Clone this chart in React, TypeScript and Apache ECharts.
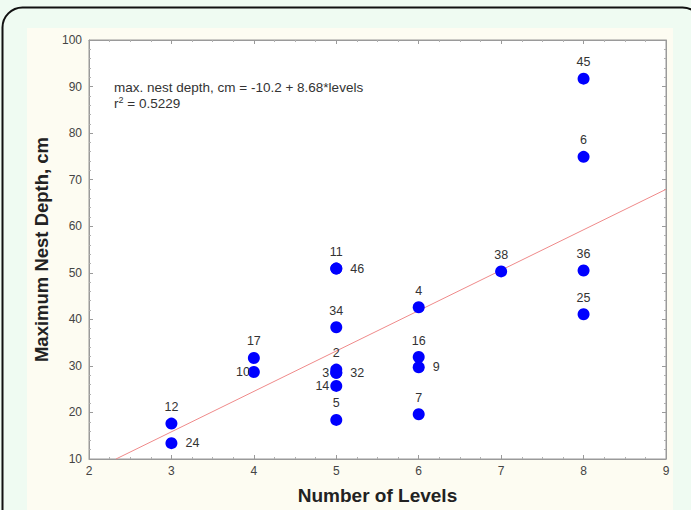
import React, { useEffect, useRef } from "react";
import * as echarts from "echarts";

const pointIds = ["45", "6", "36", "25", "38", "4", "16", "9", "7", "11", "46", "34", "2", "3", "32", "14", "5", "17", "10", "12", "24"];
const levels = [8, 8, 8, 8, 7, 6, 6, 6, 6, 5, 5, 5, 5, 5, 5, 5, 5, 4, 4, 3, 3];
const depths = [91.7, 74.9, 50.5, 41.1, 50.3, 42.6, 31.9, 29.7, 19.6, 50.9, 50.9, 38.3, 29.2, 28.5, 28.5, 25.7, 18.4, 31.7, 28.7, 17.6, 13.4];

const fitIntercept = -10.2;
const fitSlope = 8.68;
const fitR2 = "0.5229";

const xTicks = { min: 2, max: 9, interval: 1 };
const yTicks = { min: 10, max: 100, interval: 10 };

// label placement (style), keyed by point id
const labelSide: Record<string, string> = {
  "46": "right",
  "32": "right",
  "9": "right",
  "24": "right",
  "10": "left",
  "3": "left",
  "14": "left",
};

const FONT = "'Liberation Sans', Arial, sans-serif";

export default function App() {
  const ref = useRef<HTMLDivElement>(null);
  useEffect(() => {
    const chart = echarts.init(ref.current!, null, { renderer: "svg" });
    const x0 = (yTicks.min - fitIntercept) / fitSlope;
    const x1 = xTicks.max;
    const pts = pointIds.map((id, i) => {
      const side = labelSide[id] || "top";
      return {
        value: [levels[i], depths[i]],
        name: id,
        label: {
          show: true,
          position: side,
          distance: side === "top" ? 4 : side === "right" ? 8 : id === "10" ? -2 : 1,
          formatter: id,
          color: "#333",
        },
      };
    });
    const axisCommon = {
      type: "value",
      axisLine: { show: true, lineStyle: { color: "#9a9a9a", width: 1 } },
      axisTick: { show: true, inside: true, length: 4, lineStyle: { color: "#9a9a9a" } },
      minorTick: { show: true, length: 2, lineStyle: { color: "#b0b0b0" } },
      splitLine: { show: false },
    };
    chart.setOption({
      animation: false,
      backgroundColor: "#effbf2",
      graphic: [
        {
          type: "rect",
          z: -10,
          silent: true,
          shape: { x: 2.5, y: 7.5, width: 700, height: 540, r: 20 },
          style: { fill: "#effbf2", stroke: "#111", lineWidth: 2 },
        },
        {
          type: "rect",
          z: -9,
          silent: true,
          shape: { x: 27, y: 28, width: 646, height: 500 },
          style: { fill: "#fdfcf2" },
        },
        {
          type: "text",
          z: 10,
          left: 114,
          top: 79,
          style: {
            text: "max. nest depth, cm = " + fitIntercept + " + " + fitSlope + "*levels\n{r|r}{sup|2}{r| = " + fitR2 + "}",
            font: "13.5px " + FONT,
            fill: "#333",
            lineHeight: 16,
            rich: {
              r: { font: "13.5px " + FONT, fill: "#333" },
              sup: { font: "9px " + FONT, fill: "#333", verticalAlign: "top", padding: [0, 0, 7, 0] },
            },
          },
        },
      ],
      grid: {
        left: 89,
        right: 25,
        top: 40,
        bottom: 50,
        show: true,
        backgroundColor: "#ffffff",
        borderColor: "#9a9a9a",
        borderWidth: 1,
      },
      xAxis: [
        {
          ...axisCommon,
          min: xTicks.min,
          max: xTicks.max,
          interval: xTicks.interval,
          minorTick: { ...axisCommon.minorTick, splitNumber: 4 },
          axisLabel: { color: "#444", fontSize: 12, margin: 6, fontFamily: FONT },
          name: "Number of Levels",
          nameLocation: "middle",
          nameGap: 27,
          nameTextStyle: { fontSize: 19, fontWeight: "bold", color: "#222", fontFamily: FONT },
        },
        {
          ...axisCommon,
          position: "top",
          min: xTicks.min,
          max: xTicks.max,
          interval: xTicks.interval,
          minorTick: { ...axisCommon.minorTick, splitNumber: 4 },
          axisLabel: { show: false },
        },
      ],
      yAxis: [
        {
          ...axisCommon,
          min: yTicks.min,
          max: yTicks.max,
          interval: yTicks.interval,
          minorTick: { ...axisCommon.minorTick, splitNumber: 5 },
          axisLabel: { color: "#444", fontSize: 12, margin: 7, fontFamily: FONT },
          name: "Maximum Nest Depth, cm",
          nameLocation: "middle",
          nameGap: 37,
          nameTextStyle: { fontSize: 18.5, fontWeight: "bold", color: "#222", fontFamily: FONT },
        },
        {
          ...axisCommon,
          position: "right",
          min: yTicks.min,
          max: yTicks.max,
          interval: yTicks.interval,
          minorTick: { ...axisCommon.minorTick, splitNumber: 5 },
          axisLabel: { show: false },
        },
      ],
      series: [
        {
          type: "line",
          data: [
            [x0, fitIntercept + fitSlope * x0],
            [x1, fitIntercept + fitSlope * x1],
          ],
          showSymbol: false,
          symbol: "none",
          lineStyle: { color: "#ef8a8a", width: 1 },
          z: 2,
        },
        {
          type: "scatter",
          data: pts,
          symbol: "circle",
          symbolSize: 12,
          itemStyle: { color: "#0000ff", opacity: 1 },
          label: {
            color: "#333",
            fontSize: 12.5,
            fontFamily: FONT,
          },
          z: 3,
        },
      ],
    });
    return () => chart.dispose();
  }, []);
  return (
    <div
      ref={ref}
      style={{ position: "fixed", left: 0, top: 0, width: 691, height: 510 }}
    />
  );
}
